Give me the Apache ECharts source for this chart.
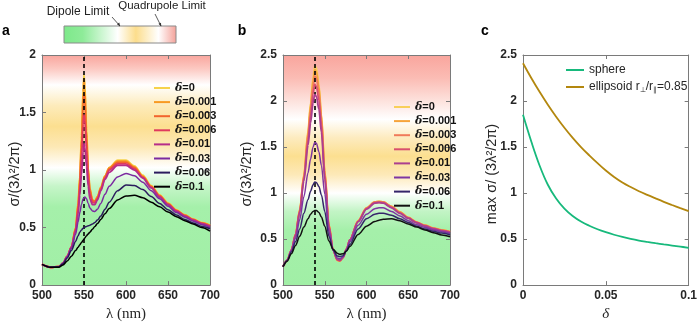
<!DOCTYPE html>
<html>
<head>
<meta charset="utf-8">
<script src="https://cdn.jsdelivr.net/npm/echarts@6/dist/echarts.min.js"></script>
<style>
html, body { margin: 0; padding: 0; background: #fff; }
#chart { width: 700px; height: 327px; }
</style>
</head>
<body>
<div id="chart"></div>
<script>
// legend values of delta (panels a and b)
const deltaLabels = ['0', '0.001', '0.003', '0.006', '0.01', '0.03', '0.06', '0.1']

// panel a: wavelength (nm) and sigma/(3 lambda^2/2pi) for each delta
const aLambda = [500, 510, 520, 525, 530, 535, 540, 543, 545, 547, 549, 550, 551, 553, 555, 557, 560, 563, 566, 570, 575, 580, 590, 600, 610, 620, 630, 640, 650, 660, 670, 680, 690, 700]
const aDelta0 = [0.18, 0.155, 0.16, 0.19, 0.25, 0.33, 0.50, 0.72, 0.95, 1.30, 1.72, 1.83, 1.74, 1.36, 1.02, 0.84, 0.74, 0.73, 0.77, 0.85, 0.95, 1.02, 1.085, 1.085, 1.035, 0.955, 0.865, 0.785, 0.715, 0.655, 0.61, 0.575, 0.545, 0.52]
const aDelta001 = [0.18, 0.155, 0.16, 0.19, 0.25, 0.33, 0.50, 0.71, 0.93, 1.27, 1.68, 1.79, 1.71, 1.34, 1.01, 0.84, 0.74, 0.73, 0.77, 0.85, 0.95, 1.02, 1.077, 1.077, 1.027, 0.948, 0.86, 0.78, 0.71, 0.65, 0.61, 0.57, 0.54, 0.52]
const aDelta003 = [0.18, 0.155, 0.16, 0.19, 0.25, 0.33, 0.49, 0.69, 0.90, 1.20, 1.57, 1.66, 1.60, 1.28, 0.98, 0.82, 0.735, 0.725, 0.76, 0.84, 0.94, 1.01, 1.066, 1.066, 1.02, 0.94, 0.855, 0.775, 0.705, 0.65, 0.605, 0.57, 0.54, 0.515]
const aDelta006 = [0.18, 0.155, 0.16, 0.19, 0.25, 0.33, 0.48, 0.66, 0.85, 1.10, 1.40, 1.48, 1.43, 1.18, 0.93, 0.79, 0.72, 0.715, 0.75, 0.83, 0.93, 1.00, 1.054, 1.054, 1.01, 0.935, 0.85, 0.77, 0.70, 0.645, 0.60, 0.565, 0.535, 0.51]
const aDelta01 = [0.18, 0.155, 0.16, 0.19, 0.25, 0.33, 0.47, 0.62, 0.78, 0.96, 1.16, 1.23, 1.20, 1.03, 0.86, 0.75, 0.70, 0.70, 0.74, 0.82, 0.92, 0.98, 1.04, 1.04, 1.0, 0.93, 0.845, 0.765, 0.70, 0.64, 0.60, 0.565, 0.535, 0.51]
const aDelta03 = [0.18, 0.155, 0.16, 0.19, 0.245, 0.32, 0.44, 0.55, 0.63, 0.70, 0.75, 0.76, 0.765, 0.75, 0.71, 0.67, 0.645, 0.64, 0.66, 0.71, 0.79, 0.86, 0.94, 0.97, 0.95, 0.895, 0.82, 0.75, 0.685, 0.63, 0.59, 0.555, 0.525, 0.50]
const aDelta06 = [0.18, 0.155, 0.16, 0.185, 0.235, 0.30, 0.38, 0.43, 0.46, 0.48, 0.495, 0.50, 0.505, 0.51, 0.515, 0.52, 0.53, 0.545, 0.565, 0.60, 0.66, 0.72, 0.82, 0.87, 0.865, 0.83, 0.77, 0.71, 0.655, 0.61, 0.57, 0.54, 0.51, 0.49]
const aDelta1 = [0.18, 0.155, 0.155, 0.175, 0.21, 0.25, 0.30, 0.33, 0.35, 0.37, 0.39, 0.40, 0.41, 0.43, 0.445, 0.46, 0.485, 0.51, 0.535, 0.57, 0.62, 0.665, 0.74, 0.775, 0.78, 0.76, 0.72, 0.68, 0.635, 0.595, 0.56, 0.53, 0.50, 0.47]
const aPeak = 550

// panel b
const bLambda = [500, 505, 510, 515, 520, 525, 530, 533, 536, 538, 540, 543, 546, 550, 555, 560, 565, 568, 572, 576, 580, 590, 600, 610, 615, 620, 630, 640, 650, 660, 670, 680, 690, 700]
const bDelta0 = [0.20, 0.27, 0.38, 0.55, 0.82, 1.20, 1.68, 1.98, 2.26, 2.38, 2.36, 2.18, 1.86, 1.25, 0.66, 0.38, 0.27, 0.26, 0.30, 0.39, 0.49, 0.70, 0.84, 0.905, 0.91, 0.905, 0.855, 0.795, 0.735, 0.685, 0.65, 0.62, 0.60, 0.58]
const bDelta001 = [0.20, 0.27, 0.38, 0.55, 0.82, 1.19, 1.66, 1.95, 2.22, 2.34, 2.32, 2.15, 1.84, 1.24, 0.66, 0.38, 0.27, 0.26, 0.30, 0.39, 0.49, 0.70, 0.84, 0.905, 0.91, 0.905, 0.855, 0.795, 0.735, 0.685, 0.65, 0.62, 0.60, 0.58]
const bDelta003 = [0.20, 0.27, 0.38, 0.55, 0.81, 1.18, 1.63, 1.90, 2.16, 2.27, 2.25, 2.09, 1.80, 1.22, 0.65, 0.38, 0.275, 0.265, 0.30, 0.39, 0.49, 0.695, 0.835, 0.90, 0.905, 0.90, 0.85, 0.79, 0.73, 0.68, 0.645, 0.615, 0.595, 0.575]
const bDelta006 = [0.20, 0.27, 0.38, 0.55, 0.80, 1.16, 1.58, 1.84, 2.08, 2.18, 2.16, 2.01, 1.74, 1.19, 0.64, 0.38, 0.275, 0.265, 0.30, 0.39, 0.49, 0.69, 0.83, 0.895, 0.90, 0.895, 0.845, 0.785, 0.73, 0.68, 0.645, 0.615, 0.595, 0.575]
const bDelta01 = [0.20, 0.27, 0.38, 0.54, 0.79, 1.13, 1.52, 1.76, 1.98, 2.07, 2.05, 1.91, 1.66, 1.15, 0.63, 0.38, 0.28, 0.27, 0.30, 0.39, 0.49, 0.69, 0.825, 0.89, 0.895, 0.89, 0.84, 0.78, 0.725, 0.675, 0.64, 0.61, 0.59, 0.57]
const bDelta03 = [0.20, 0.27, 0.37, 0.51, 0.71, 0.96, 1.22, 1.37, 1.50, 1.55, 1.54, 1.45, 1.30, 0.99, 0.58, 0.38, 0.295, 0.285, 0.31, 0.38, 0.47, 0.65, 0.77, 0.83, 0.84, 0.84, 0.80, 0.75, 0.70, 0.655, 0.625, 0.60, 0.58, 0.56]
const bDelta06 = [0.20, 0.265, 0.36, 0.47, 0.61, 0.78, 0.93, 1.02, 1.09, 1.12, 1.115, 1.07, 0.98, 0.80, 0.53, 0.38, 0.315, 0.31, 0.32, 0.37, 0.44, 0.61, 0.72, 0.77, 0.78, 0.78, 0.76, 0.72, 0.68, 0.64, 0.61, 0.585, 0.565, 0.545]
const bDelta1 = [0.20, 0.26, 0.34, 0.43, 0.53, 0.63, 0.72, 0.77, 0.80, 0.81, 0.81, 0.79, 0.74, 0.64, 0.48, 0.39, 0.345, 0.335, 0.34, 0.37, 0.42, 0.55, 0.64, 0.69, 0.705, 0.715, 0.72, 0.70, 0.665, 0.63, 0.60, 0.57, 0.545, 0.525]
const bPeak = 538

// panel c: max sigma vs delta
const cDelta = [0, 0.005, 0.01, 0.015, 0.02, 0.025, 0.03, 0.035, 0.04, 0.045, 0.05, 0.055, 0.06, 0.065, 0.07, 0.075, 0.08, 0.085, 0.09, 0.095, 0.1]
const cSphere = [1.85, 1.56, 1.30, 1.09, 0.94, 0.83, 0.75, 0.69, 0.645, 0.607, 0.575, 0.547, 0.523, 0.502, 0.484, 0.469, 0.455, 0.442, 0.43, 0.418, 0.405]
const cEllipsoid = [2.41, 2.25, 2.10, 1.96, 1.83, 1.71, 1.60, 1.50, 1.41, 1.325, 1.245, 1.175, 1.115, 1.065, 1.02, 0.98, 0.942, 0.905, 0.87, 0.836, 0.803]

const aColors = ['#f6d24a', '#f89a22', '#f2642e', '#e03a5e', '#b62d89', '#7b2aa0', '#2b1b5e', '#000000']
const bColors = ['#f8cf5a', '#f6a43a', '#f07a5a', '#d8506e', '#ab3f8f', '#7d36a2', '#35256a', '#111111']

const aSeries = [aDelta0, aDelta001, aDelta003, aDelta006, aDelta01, aDelta03, aDelta06, aDelta1]
const bSeries = [bDelta0, bDelta001, bDelta003, bDelta006, bDelta01, bDelta03, bDelta06, bDelta1]

const chart = echarts.init(document.getElementById('chart'))

const sans = 'Liberation Sans, Arial, sans-serif'
const axisGray = '#7a7a7a'

function xAxisBottom(grid, min, max, interval, name, nameStyle) {
  return {
    type: 'value', gridIndex: grid, min: min, max: max, interval: interval, position: 'bottom',
    axisLine: { show: true, onZero: false, lineStyle: { color: axisGray, width: 1 } },
    axisTick: { show: true, inside: true, length: 4, lineStyle: { color: axisGray } },
    axisLabel: { margin: 5, fontFamily: sans, fontWeight: 'bold', fontSize: 12, color: '#262626' },
    splitLine: { show: false },
    name: name, nameLocation: 'middle', nameGap: 20,
    nameTextStyle: nameStyle
  }
}
function xAxisTop(grid, min, max, interval) {
  return {
    type: 'value', gridIndex: grid, min: min, max: max, interval: interval, position: 'top',
    axisLine: { show: true, onZero: false, lineStyle: { color: axisGray, width: 1 } },
    axisTick: { show: true, inside: true, length: 4, lineStyle: { color: axisGray } },
    axisLabel: { show: false },
    splitLine: { show: false }
  }
}
function yAxisLeft(grid, max) {
  return {
    type: 'value', gridIndex: grid, min: 0, max: max, interval: 0.5, position: 'left',
    axisLine: { show: true, onZero: false, lineStyle: { color: axisGray, width: 1 } },
    axisTick: { show: true, inside: true, length: 4, lineStyle: { color: axisGray } },
    axisLabel: { margin: 6, fontFamily: sans, fontWeight: 'bold', fontSize: 12, color: '#262626' },
    splitLine: { show: false }
  }
}
function yAxisRight(grid, max) {
  return {
    type: 'value', gridIndex: grid, min: 0, max: max, interval: 0.5, position: 'right',
    axisLine: { show: true, onZero: false, lineStyle: { color: axisGray, width: 1 } },
    axisTick: { show: true, inside: true, length: 4, lineStyle: { color: axisGray } },
    axisLabel: { show: false },
    splitLine: { show: false }
  }
}

const lambdaName = { fontFamily: 'Liberation Serif, serif', fontSize: 15, color: '#262626' }

// background bands: red (quadrupole), yellow, white (dipole limit), green
const aBackground = new echarts.graphic.LinearGradient(0, 0, 0, 1, [
  { offset: 0, color: '#f9a59d' },
  { offset: 0.06, color: '#fcc9c2' },
  { offset: 0.13, color: '#ffffff' },
  { offset: 0.22, color: '#fdebbb' },
  { offset: 0.31, color: '#fcdf90' },
  { offset: 0.4, color: '#fde9b6' },
  { offset: 0.49, color: '#ffffff' },
  { offset: 0.57, color: '#c6f5c9' },
  { offset: 0.66, color: '#a5f0aa' },
  { offset: 1, color: '#a1efa6' }
])
const bBackground = new echarts.graphic.LinearGradient(0, 0, 0, 1, [
  { offset: 0, color: '#f9a59d' },
  { offset: 0.1, color: '#fbbcb4' },
  { offset: 0.2, color: '#fde2dd' },
  { offset: 0.28, color: '#ffffff' },
  { offset: 0.36, color: '#fdebbf' },
  { offset: 0.44, color: '#fcdf90' },
  { offset: 0.52, color: '#fde9b8' },
  { offset: 0.6, color: '#ffffff' },
  { offset: 0.68, color: '#c2f4c5' },
  { offset: 0.76, color: '#a5f0aa' },
  { offset: 1, color: '#a1efa6' }
])

function deltaLegend(prefix, left, top) {
  return {
    orient: 'vertical', left: left, top: top,
    itemWidth: 16, itemHeight: 10, itemGap: 2.1,
    selectedMode: false,
    itemStyle: { opacity: 0 },
    data: deltaLabels.map(d => prefix + '|' + d),
    formatter: n => '{d|δ}{v|=' + n.split('|')[1] + '}',
    textStyle: {
      lineHeight: 12,
      rich: {
        d: { fontFamily: 'DejaVu Serif, serif', fontStyle: 'italic', fontWeight: 'bold', fontSize: 11, lineHeight: 12, color: '#111' },
        v: { fontFamily: sans, fontWeight: 'bold', fontSize: 11, lineHeight: 12, color: '#111' }
      }
    }
  }
}

const series = []
aSeries.forEach((ys, i) => {
  series.push({
    name: 'a|' + deltaLabels[i], type: 'line', xAxisIndex: 0, yAxisIndex: 0,
    symbol: 'none', smooth: 0.3, smoothMonotone: 'x',
    lineStyle: { width: i < 5 ? 1.8 : 1.5, color: aColors[i] }, itemStyle: { color: aColors[i] },
    data: aLambda.map((x, k) => [x, ys[k]]),
    z: 2 + i
  })
})
bSeries.forEach((ys, i) => {
  series.push({
    name: 'b|' + deltaLabels[i], type: 'line', xAxisIndex: 2, yAxisIndex: 2,
    symbol: 'none', smooth: 0.3, smoothMonotone: 'x',
    lineStyle: { width: i < 5 ? 1.8 : 1.5, color: bColors[i] }, itemStyle: { color: bColors[i] },
    data: bLambda.map((x, k) => [x, ys[k]]),
    z: 2 + i
  })
})
// dashed resonance markers
series[7].markLine = {
  symbol: 'none', silent: true, label: { show: false },
  lineStyle: { type: [4, 3], color: '#000', width: 1.6 },
  data: [{ xAxis: aPeak }]
}
series[15].markLine = {
  symbol: 'none', silent: true, label: { show: false },
  lineStyle: { type: [4, 3], color: '#000', width: 1.6 },
  data: [{ xAxis: bPeak }]
}
series.push({
  name: 'sphere', type: 'line', xAxisIndex: 4, yAxisIndex: 4,
  symbol: 'none', smooth: 0.4,
  lineStyle: { width: 1.8, color: '#17b97c' }, itemStyle: { color: '#17b97c' },
  data: cDelta.map((x, k) => [x, cSphere[k]])
})
series.push({
  name: 'ellipsoid', type: 'line', xAxisIndex: 4, yAxisIndex: 4,
  symbol: 'none', smooth: 0.4,
  lineStyle: { width: 1.8, color: '#b3870e' }, itemStyle: { color: '#b3870e' },
  data: cDelta.map((x, k) => [x, cEllipsoid[k]])
})

const yName = 'σ/(3λ²/2π)'

const option = {
  animation: false,
  grid: [
    { left: 42, top: 55, width: 168, height: 237, show: true, borderWidth: 0, backgroundColor: aBackground },
    { left: 283, top: 55, width: 167, height: 237, show: true, borderWidth: 0, backgroundColor: bBackground },
    { left: 523, top: 55, width: 168, height: 237, show: false }
  ],
  xAxis: [
    xAxisBottom(0, 500, 700, 50, 'λ (nm)', lambdaName),
    xAxisTop(0, 500, 700, 50),
    xAxisBottom(1, 500, 700, 50, 'λ (nm)', lambdaName),
    xAxisTop(1, 500, 700, 50),
    xAxisBottom(2, 0, 0.1, 0.05, 'δ', { fontFamily: 'Liberation Serif, serif', fontStyle: 'italic', fontSize: 15, color: '#262626' }),
    xAxisTop(2, 0, 0.1, 0.05)
  ],
  yAxis: [
    yAxisLeft(0, 2), yAxisRight(0, 2),
    yAxisLeft(1, 2.5), yAxisRight(1, 2.5),
    yAxisLeft(2, 2.5), yAxisRight(2, 2.5)
  ],
  legend: [
    deltaLegend('a', 148, 77),
    deltaLegend('b', 388, 96),
    {
      orient: 'vertical', left: 560, top: 58,
      itemWidth: 18, itemHeight: 10, itemGap: 3,
      selectedMode: false,
      itemStyle: { opacity: 0 },
      data: ['sphere', 'ellipsoid'],
      formatter: n => n === 'sphere' ? 'sphere' : 'ellipsoid r{s|⊥}/r{s|∥}=0.85',
      textStyle: {
        fontFamily: sans, fontSize: 12, lineHeight: 14, color: '#262626',
        rich: { s: { fontFamily: sans, fontSize: 7, lineHeight: 14, color: '#262626', padding: [6, 0, 0, 0] } }
      }
    }
  ],
  graphic: [
    // colour scale with the two limits
    {
      type: 'rect', shape: { x: 64, y: 26, width: 112, height: 17 },
      style: {
        stroke: '#8a8a8a', lineWidth: 1,
        fill: new echarts.graphic.LinearGradient(0, 0, 1, 0, [
          { offset: 0, color: '#7de98a' },
          { offset: 0.17, color: '#8eeb99' },
          { offset: 0.48, color: '#ffffff' },
          { offset: 0.64, color: '#fcdd8c' },
          { offset: 0.84, color: '#ffffff' },
          { offset: 1, color: '#f4a098' }
        ])
      }
    },
    { type: 'text', x: 78, y: 12, style: { text: 'Dipole Limit', font: '12px Liberation Sans', fill: '#222', align: 'center', verticalAlign: 'middle' } },
    { type: 'text', x: 162, y: 6, style: { text: 'Quadrupole Limit', font: '11.5px Liberation Sans', fill: '#222', align: 'center', verticalAlign: 'middle' } },
    { type: 'line', shape: { x1: 112, y1: 17, x2: 120, y2: 26 }, style: { stroke: '#333', lineWidth: 0.8 } },
    { type: 'polygon', shape: { points: [[120, 26.5], [117, 24.3], [119.3, 22.6]] }, style: { fill: '#333' } },
    { type: 'line', shape: { x1: 155, y1: 14, x2: 161, y2: 26 }, style: { stroke: '#333', lineWidth: 0.8 } },
    { type: 'polygon', shape: { points: [[161.2, 26.5], [158.5, 23.8], [161, 22.8]] }, style: { fill: '#333' } },
    // panel letters
    { type: 'text', x: 6, y: 31, style: { text: 'a', font: 'bold 14px Liberation Sans', fill: '#000', align: 'center', verticalAlign: 'middle' } },
    { type: 'text', x: 242, y: 31, style: { text: 'b', font: 'bold 14px Liberation Sans', fill: '#000', align: 'center', verticalAlign: 'middle' } },
    { type: 'text', x: 485, y: 31, style: { text: 'c', font: 'bold 14px Liberation Sans', fill: '#000', align: 'center', verticalAlign: 'middle' } },
    // y axis titles
    { type: 'text', x: 15, y: 174, rotation: Math.PI / 2, style: { text: yName, font: '14.5px Liberation Sans', fill: '#262626', align: 'center', verticalAlign: 'middle' } },
    { type: 'text', x: 247, y: 174, rotation: Math.PI / 2, style: { text: yName, font: '14.5px Liberation Sans', fill: '#262626', align: 'center', verticalAlign: 'middle' } },
    { type: 'text', x: 492, y: 174, rotation: Math.PI / 2, style: { text: 'max σ/ (3λ²/2π)', font: '14.5px Liberation Sans', fill: '#262626', align: 'center', verticalAlign: 'middle' } }
  ],
  series: series
}

chart.setOption(option)
</script>
</body>
</html>
